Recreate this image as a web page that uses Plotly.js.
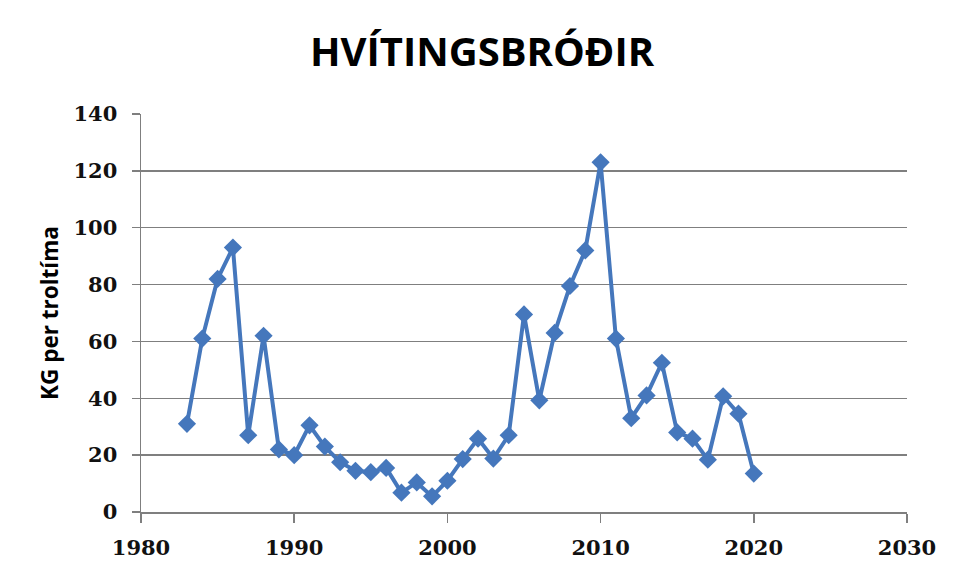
<!DOCTYPE html>
<html>
<head>
<meta charset="utf-8">
<script src="https://cdn.plot.ly/plotly-3.0.1.min.js"></script>
<style>
html,body{margin:0;padding:0;background:#fff;}
#chart{width:962px;height:578px;outline:1px solid #a6a6a6;outline-offset:-3px;}
</style>
</head>
<body>
<div id="chart"></div>
<script>
const years = [1983,1984,1985,1986,1987,1988,1989,1990,1991,1992,1993,1994,1995,1996,1997,1998,1999,2000,
  2001,2002,2003,2004,2005,2006,2007,2008,2009,2010,2011,2012,2013,2014,2015,2016,2017,2018,2019,2020];
const kgPerTrawlHour = [31,61,82,93,27,62,22,20,30.5,23,17.5,14.5,14,15.5,6.8,10.4,5.5,11,
  18.6,25.8,18.8,27,69.5,39.3,63,79.5,92,123,61,33,41,52.5,28,25.8,18.4,40.7,34.6,13.5];
const xTicks = [1980,1990,2000,2010,2020,2030];
const yTicks = [0,20,40,60,80,100,120,140];
const chartTitle = "HVÍTINGSBRÓÐIR";
const yTitle = "KG per troltíma";

const tickFont = {family:"DejaVu Serif", size:21, color:"#111", weight:700};

Plotly.newPlot("chart", [{
  x: years, y: kgPerTrawlHour, type: "scatter", mode: "lines+markers",
  line: {color:"#4577BC", width:4},
  marker: {symbol:"diamond", size:14, color:"#4577BC"},
  hoverinfo: "x+y"
}], {
  width: 962, height: 578,
  paper_bgcolor: "#fff", plot_bgcolor: "#fff",
  margin: {l:141, r:55, t:114, b:66},
  showlegend: false,
  title: {text: chartTitle, font:{family:"Open Sans", size:40, color:"#000", weight:700},
          x:0.501, xref:"container", xanchor:"center", y:0.91, yref:"container", yanchor:"middle"},
  xaxis: {range:[1980,2030], tickvals:xTicks, ticktext:xTicks.map(String),
          showgrid:false, zeroline:false, showline:true, linecolor:"#7f7f7f", linewidth:1.5,
          ticks:"outside", ticklen:9, tickcolor:"#7f7f7f", tickwidth:1.5,
          tickfont:tickFont, ticklabelstandoff:7},
  yaxis: {range:[0,140], tickvals:yTicks, ticktext:yTicks.map(String),
          showgrid:true, gridcolor:"#7f7f7f", gridwidth:1.4, zeroline:false,
          showline:true, linecolor:"#7f7f7f", linewidth:1.5,
          ticks:"outside", ticklen:8, tickcolor:"#7f7f7f", tickwidth:1.4,
          tickfont:tickFont, ticklabelstandoff:10,
          title:{text:yTitle, font:{family:"Open Sans", size:22.5, color:"#000", weight:700}, standoff:8}}
}, {displayModeBar:false, staticPlot:true});
</script>
</body>
</html>
